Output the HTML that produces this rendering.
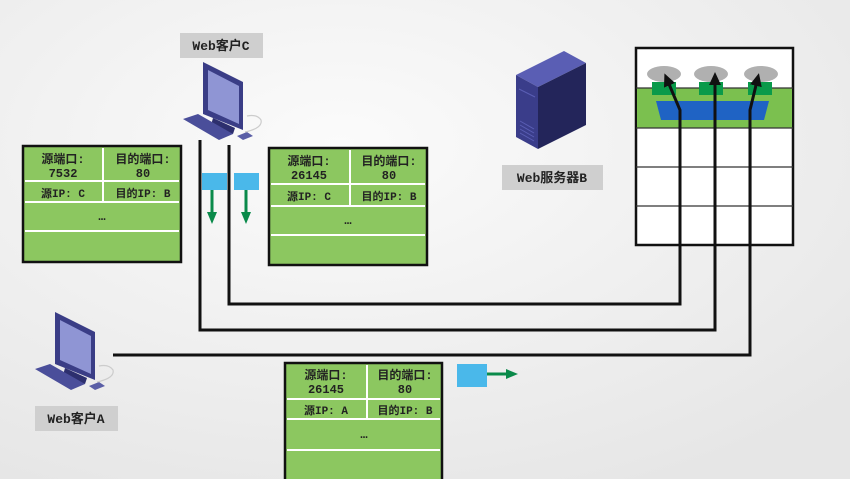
<!DOCTYPE html>
<html><head><meta charset="utf-8"><style>
html,body{margin:0;padding:0;background:#f4f4f4}
svg{display:block}
text{font-family:"Liberation Mono","Noto Sans CJK SC",monospace;font-weight:bold;fill:#222}
</style></head><body>
<svg width="850" height="479" viewBox="0 0 850 479" xmlns="http://www.w3.org/2000/svg">
<defs>
<radialGradient id="bg" cx="0.4" cy="0.3" r="0.8"><stop offset="0" stop-color="#fbfbfb"/><stop offset="1" stop-color="#e6e6e6"/></radialGradient>
<marker id="ah" markerUnits="userSpaceOnUse" markerWidth="14" markerHeight="14" refX="9" refY="7" orient="auto"><path d="M0,1 L13,7 L0,13z" fill="#111"/></marker>
<marker id="gh" markerUnits="userSpaceOnUse" markerWidth="12" markerHeight="12" refX="6" refY="6" orient="auto"><path d="M0,1 L12,6 L0,11z" fill="#0a8a4a"/></marker>
</defs>
<rect width="850" height="479" fill="url(#bg)"/>

<!-- right table -->
<rect x="636" y="48" width="157" height="197" fill="#fff" stroke="#111" stroke-width="2.5"/>
<rect x="637" y="88" width="155" height="40" fill="#7bc04f"/>
<g stroke="#333" stroke-width="1.2">
<line x1="636" y1="88" x2="793" y2="88"/><line x1="636" y1="128" x2="793" y2="128"/>
<line x1="636" y1="167" x2="793" y2="167"/><line x1="636" y1="206" x2="793" y2="206"/>
<line x1="680" y1="128" x2="680" y2="245"/><line x1="715" y1="128" x2="715" y2="245"/><line x1="751" y1="128" x2="751" y2="245"/>
</g>
<ellipse cx="664" cy="74" rx="17" ry="8" fill="#b0b0b0"/>
<ellipse cx="711" cy="74" rx="17" ry="8" fill="#b0b0b0"/>
<ellipse cx="761" cy="74" rx="17" ry="8" fill="#b0b0b0"/>
<rect x="652" y="82" width="24" height="13" fill="#0a9a4a"/>
<rect x="699" y="82" width="24" height="13" fill="#0a9a4a"/>
<rect x="748" y="82" width="24" height="13" fill="#0a9a4a"/>
<path d="M656,101 L769,101 L764,120 L661,120z" fill="#1f63c4"/>

<!-- connection lines -->
<g fill="none" stroke="#111" stroke-width="3">
<path d="M200,140 V330 H715 V76" marker-end="url(#ah)"/>
<path d="M229,145 V304 H680 V110 L666,77" marker-end="url(#ah)"/>
<path d="M113,355 H750 V110 L758,77" marker-end="url(#ah)"/>
</g>

<!-- packets -->
<rect x="202" y="173" width="25" height="17" fill="#4ab8ea"/>
<rect x="234" y="173" width="25" height="17" fill="#4ab8ea"/>
<g stroke="#0a8a4a" stroke-width="3" fill="none">
<line x1="212" y1="190" x2="212" y2="218" marker-end="url(#gh)"/>
<line x1="246" y1="190" x2="246" y2="218" marker-end="url(#gh)"/>
<line x1="487" y1="374" x2="512" y2="374" marker-end="url(#gh)"/>
</g>
<rect x="457" y="364" width="30" height="23" fill="#4ab8ea"/>

<!-- tables -->
<g font-size="12">
<g transform="translate(23,146)">
<rect width="158" height="116" fill="#8cc760" stroke="#111" stroke-width="2.5"/>
<g stroke="#fff" stroke-width="2"><line x1="2" y1="35" x2="156" y2="35"/><line x1="2" y1="56" x2="156" y2="56"/><line x1="2" y1="85" x2="156" y2="85"/><line x1="80" y1="2" x2="80" y2="56"/></g>
<text x="40" y="17" text-anchor="middle">源端口:</text><text x="40" y="31" text-anchor="middle">7532</text>
<text x="120" y="17" text-anchor="middle">目的端口:</text><text x="120" y="31" text-anchor="middle">80</text>
<text x="40" y="51" text-anchor="middle" font-weight="normal" font-size="11">源IP: C</text><text x="120" y="51" text-anchor="middle" font-weight="normal" font-size="11">目的IP: B</text>
<text x="79" y="74" text-anchor="middle">…</text>
</g>
<g transform="translate(269,148)">
<rect width="158" height="117" fill="#8cc760" stroke="#111" stroke-width="2.5"/>
<g stroke="#fff" stroke-width="2"><line x1="2" y1="36" x2="156" y2="36"/><line x1="2" y1="58" x2="156" y2="58"/><line x1="2" y1="87" x2="156" y2="87"/><line x1="81" y1="2" x2="81" y2="58"/></g>
<text x="40" y="17" text-anchor="middle">源端口:</text><text x="40" y="31" text-anchor="middle">26145</text>
<text x="120" y="17" text-anchor="middle">目的端口:</text><text x="120" y="31" text-anchor="middle">80</text>
<text x="40" y="52" text-anchor="middle" font-weight="normal" font-size="11">源IP: C</text><text x="120" y="52" text-anchor="middle" font-weight="normal" font-size="11">目的IP: B</text>
<text x="79" y="76" text-anchor="middle">…</text>
</g>
<g transform="translate(285,363)">
<rect width="157" height="118" fill="#8cc760" stroke="#111" stroke-width="2.5"/>
<g stroke="#fff" stroke-width="2"><line x1="2" y1="36" x2="155" y2="36"/><line x1="2" y1="56" x2="155" y2="56"/><line x1="2" y1="87" x2="155" y2="87"/><line x1="82" y1="2" x2="82" y2="56"/></g>
<text x="41" y="16" text-anchor="middle">源端口:</text><text x="41" y="30" text-anchor="middle">26145</text>
<text x="120" y="16" text-anchor="middle">目的端口:</text><text x="120" y="30" text-anchor="middle">80</text>
<text x="41" y="51" text-anchor="middle" font-weight="normal" font-size="11">源IP: A</text><text x="120" y="51" text-anchor="middle" font-weight="normal" font-size="11">目的IP: B</text>
<text x="79" y="75" text-anchor="middle">…</text>
</g>
</g>

<!-- labels -->
<rect x="180" y="33" width="83" height="25" fill="#cfcfcf"/><text x="221" y="50" text-anchor="middle" font-size="13">Web客户C</text>
<rect x="502" y="165" width="101" height="25" fill="#cfcfcf"/><text x="552" y="182" text-anchor="middle" font-size="13">Web服务器B</text>
<rect x="35" y="406" width="83" height="25" fill="#cfcfcf"/><text x="76" y="423" text-anchor="middle" font-size="13">Web客户A</text>

<!-- computer C -->
<g transform="translate(183,62)">
<path d="M20,0 L60,20 L60,68 L20,52z" fill="#3a3d86"/>
<path d="M25,8 L56,24 L56,62 L25,48z" fill="#8f95d4"/>
<path d="M30,56 L52,66 L50,72 L28,63z" fill="#2d2f6e"/>
<path d="M0,57 L15,52 L50,72 L36,78z" fill="#4a4e9a"/>
<path d="M54,74 L64,70 L70,74 L60,78z" fill="#5a5ea6"/>
<path d="M62,70 Q80,66 78,58 Q74,52 64,54" fill="none" stroke="#ccc" stroke-width="1.2"/>
</g>
<!-- computer A -->
<g transform="translate(35,312)">
<path d="M20,0 L60,20 L60,68 L20,52z" fill="#3a3d86"/>
<path d="M25,8 L56,24 L56,62 L25,48z" fill="#8f95d4"/>
<path d="M30,56 L52,66 L50,72 L28,63z" fill="#2d2f6e"/>
<path d="M0,57 L15,52 L50,72 L36,78z" fill="#4a4e9a"/>
<path d="M54,74 L64,70 L70,74 L60,78z" fill="#5a5ea6"/>
<path d="M62,70 Q80,66 78,58 Q74,52 64,54" fill="none" stroke="#ccc" stroke-width="1.2"/>
</g>
<!-- server -->
<g transform="translate(516,51)">
<path d="M0,24 L48,0 L70,12 L22,36z" fill="#5a5eb4"/>
<path d="M0,24 L22,36 L22,98 L0,86z" fill="#3a3d8a"/>
<path d="M22,36 L70,12 L70,74 L22,98z" fill="#23255a"/>
<g stroke="#5a5eb4" stroke-width="1"><line x1="4" y1="70" x2="18" y2="78"/><line x1="4" y1="74" x2="18" y2="82"/><line x1="4" y1="78" x2="18" y2="86"/><line x1="4" y1="82" x2="18" y2="90"/><line x1="3" y1="38" x2="19" y2="46"/></g>
</g>
</svg>
</body></html>
